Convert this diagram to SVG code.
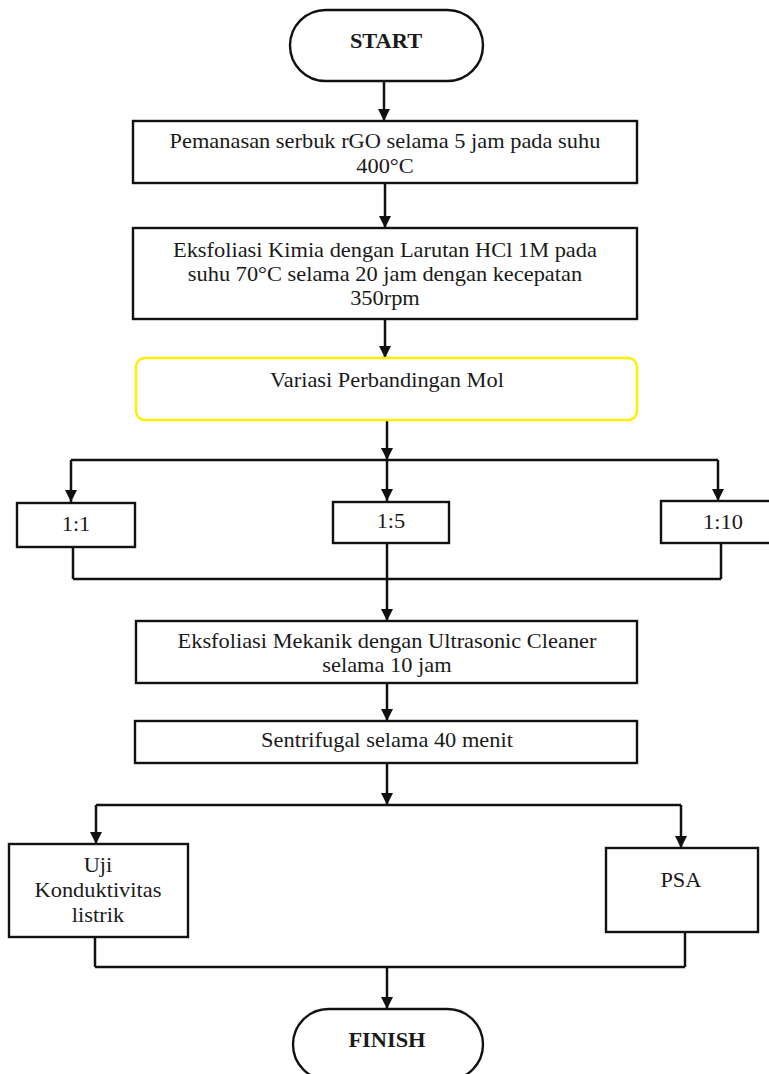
<svg xmlns="http://www.w3.org/2000/svg" width="769" height="1074" viewBox="0 0 769 1074">
<style>
.box{fill:#fff;stroke:#111;stroke-width:2.4}
.yel{fill:#fff;stroke:#ffee00;stroke-width:2.5}
.t{font-family:"Liberation Serif","Times New Roman",serif;font-size:20px;fill:#1a1a1a;text-anchor:middle;transform:scaleX(1.12);transform-box:fill-box;transform-origin:center}
.b{font-weight:bold}
.c{fill:none;stroke:#111;stroke-width:2.5}
.a{marker-end:url(#ah)}
</style>
<defs>
<marker id="ah" markerUnits="userSpaceOnUse" markerWidth="12" markerHeight="12" viewBox="0 0 10 10" refX="10" refY="5" orient="auto"><path d="M0,0 L10,5 L0,10 z" fill="#111"/></marker>
</defs>
<rect x="0" y="0" width="769" height="1074" fill="#fff"/>
<g id="connectors">
<line class="c a" x1="384" y1="81" x2="384" y2="121"/>
<line class="c a" x1="385" y1="183" x2="385" y2="228"/>
<line class="c a" x1="385" y1="319" x2="385" y2="358"/>
<line class="c a" x1="387" y1="420" x2="387" y2="460"/>
<line class="c" x1="71" y1="460" x2="718" y2="460"/>
<line class="c a" x1="71" y1="460" x2="71" y2="502"/>
<line class="c a" x1="387" y1="460" x2="387" y2="501"/>
<line class="c a" x1="718" y1="460" x2="718" y2="501"/>
<line class="c" x1="73" y1="547" x2="73" y2="579"/>
<line class="c" x1="721" y1="543" x2="721" y2="579"/>
<line class="c" x1="73" y1="579" x2="721" y2="579"/>
<line class="c a" x1="387" y1="543" x2="387" y2="621"/>
<line class="c a" x1="387" y1="683" x2="387" y2="721"/>
<line class="c a" x1="387" y1="763" x2="387" y2="805"/>
<line class="c" x1="96" y1="805" x2="681" y2="805"/>
<line class="c a" x1="96" y1="805" x2="96" y2="844"/>
<line class="c a" x1="681" y1="805" x2="681" y2="848"/>
<line class="c" x1="95" y1="937" x2="95" y2="967"/>
<line class="c" x1="685" y1="932" x2="685" y2="967"/>
<line class="c" x1="95" y1="967" x2="685" y2="967"/>
<line class="c a" x1="387" y1="967" x2="387" y2="1009"/>
</g>
<g id="start">
<rect class="box" x="290" y="10" width="193" height="71" rx="35.5"/>
<text class="t b" x="386" y="48">START</text>
</g>
<g id="pemanasan">
<rect class="box" x="133" y="121" width="504" height="62"/>
<text class="t" x="385" y="148">Pemanasan serbuk rGO selama 5 jam pada suhu</text>
<text class="t" x="385" y="173">400°C</text>
</g>
<g id="kimia">
<rect class="box" x="133" y="228" width="504" height="91"/>
<text class="t" x="385" y="257">Eksfoliasi Kimia dengan Larutan HCl 1M pada</text>
<text class="t" x="385" y="281">suhu 70°C selama 20 jam dengan kecepatan</text>
<text class="t" x="385" y="305">350rpm</text>
</g>
<g id="variasi">
<rect class="yel" x="136" y="358" width="501" height="62" rx="9"/>
<text class="t" x="387" y="387">Variasi Perbandingan Mol</text>
</g>
<g id="r11">
<rect class="box" x="17" y="503" width="118" height="44"/>
<text class="t" x="76" y="531">1:1</text>
</g>
<g id="r15">
<rect class="box" x="333" y="502" width="116" height="41"/>
<text class="t" x="391" y="528">1:5</text>
</g>
<g id="r110">
<rect class="box" x="661" y="501" width="112" height="42"/>
<text class="t" x="723" y="529">1:10</text>
</g>
<g id="mekanik">
<rect class="box" x="136" y="621" width="501" height="62"/>
<text class="t" x="387" y="648">Eksfoliasi Mekanik dengan Ultrasonic Cleaner</text>
<text class="t" x="387" y="672">selama 10 jam</text>
</g>
<g id="sentrifugal">
<rect class="box" x="135" y="721" width="502" height="42"/>
<text class="t" x="387" y="747">Sentrifugal selama 40 menit</text>
</g>
<g id="uji">
<rect class="box" x="9" y="844" width="179" height="93"/>
<text class="t" x="98" y="872">Uji</text>
<text class="t" x="98" y="897">Konduktivitas</text>
<text class="t" x="98" y="922">listrik</text>
</g>
<g id="psa">
<rect class="box" x="606" y="848" width="152" height="84"/>
<text class="t" x="681" y="887">PSA</text>
</g>
<g id="finish">
<rect class="box" x="293" y="1009" width="190" height="71" rx="35.5"/>
<text class="t b" x="387" y="1047">FINISH</text>
</g>
</svg>
